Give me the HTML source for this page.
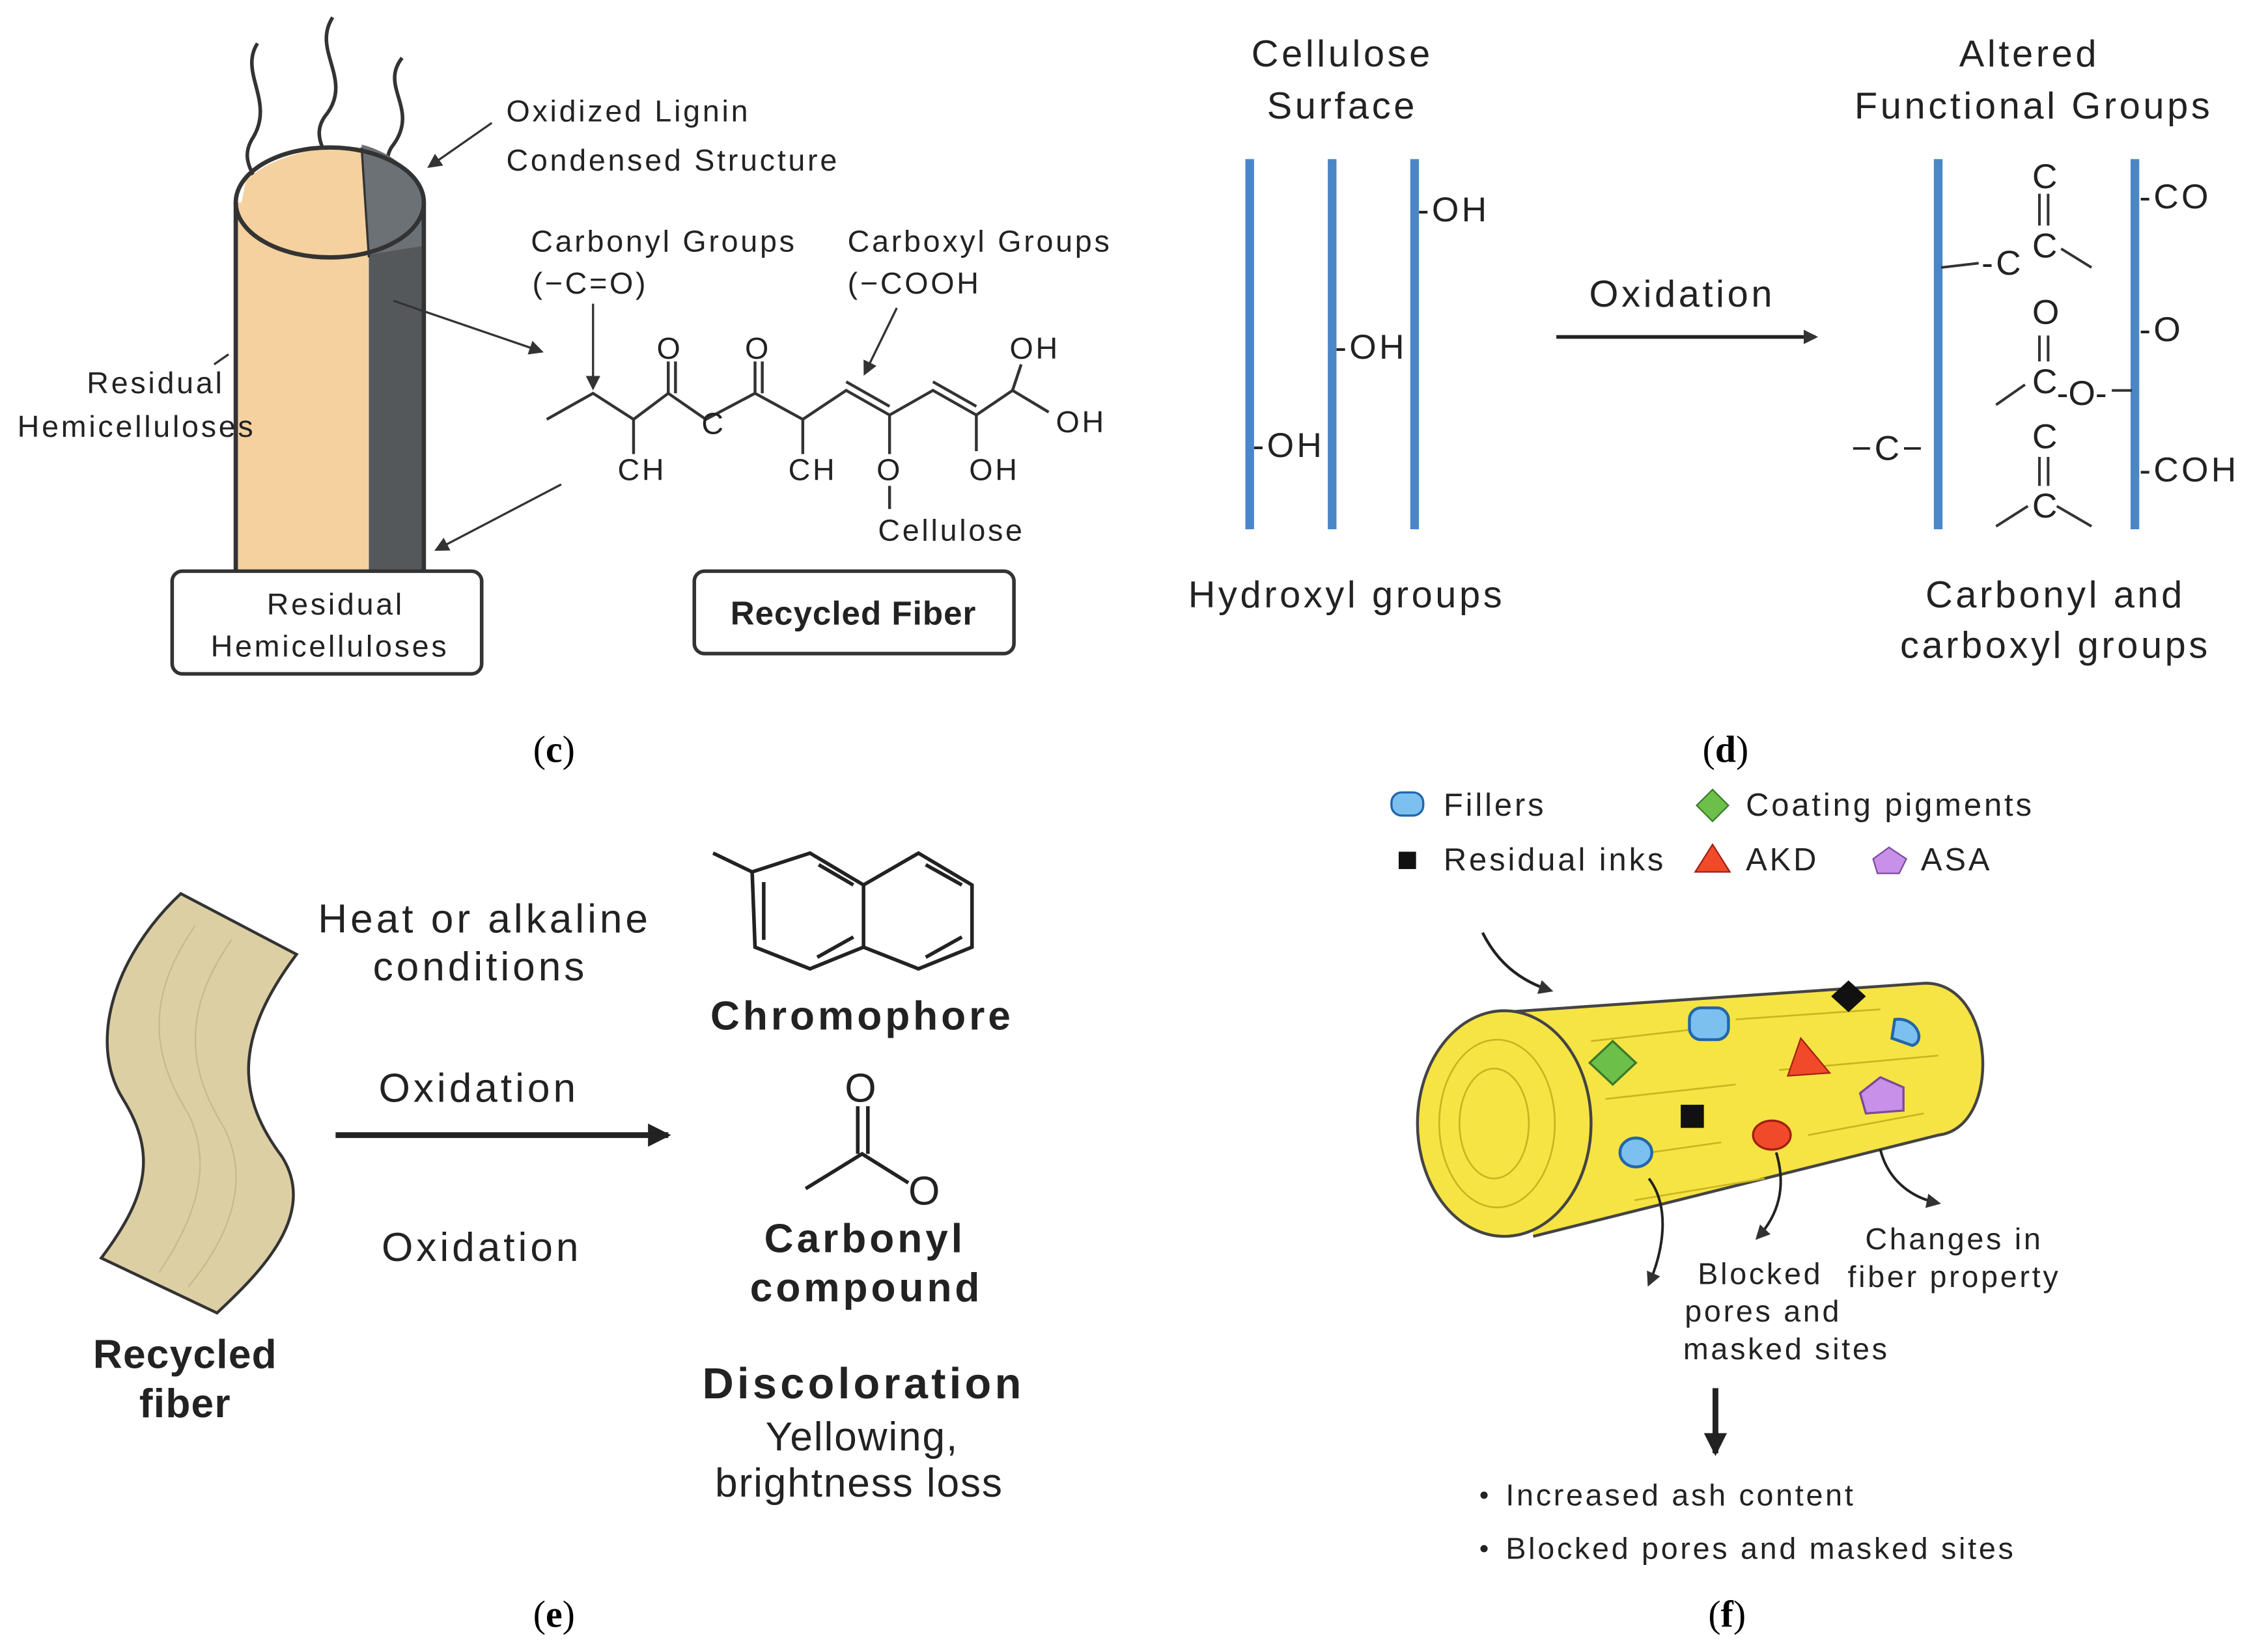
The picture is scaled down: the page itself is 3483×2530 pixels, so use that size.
<!DOCTYPE html>
<html><head><meta charset="utf-8"><style>
html,body{margin:0;padding:0;background:#fff}
svg{display:block}
text{font-family:"Liberation Sans",sans-serif;fill:#222;letter-spacing:0.08em}
text.s{font-family:"Liberation Serif",serif;fill:#000;letter-spacing:0}
</style></head><body>
<svg width="3483" height="2530" viewBox="0 0 1568 1139" xmlns="http://www.w3.org/2000/svg">
<defs>
<marker id="ah" markerWidth="10" markerHeight="10" refX="8" refY="5" orient="auto" markerUnits="userSpaceOnUse"><path d="M0,0 L10,5 L0,10 z" fill="#333"/></marker>
<marker id="ahb" markerWidth="16" markerHeight="16" refX="14" refY="8" orient="auto" markerUnits="userSpaceOnUse"><path d="M0,0 L16,8 L0,16 z" fill="#222"/></marker>
</defs>
<rect width="1568" height="1139" fill="#fff"/>

<!-- ===== Panel c ===== -->
<g fill="none" stroke="#333" stroke-width="2.5">
<path d="M178,30 C165,50 190,70 175,95 C162,115 185,125 178,140"/>
<path d="M230,12 C215,35 245,55 225,80 C210,100 240,115 228,135"/>
<path d="M278,40 C262,60 290,75 272,100 C260,115 280,125 275,135"/>
</g>
<rect x="163" y="140" width="92" height="255" fill="#f4d19f"/>
<path d="M170,125 C190,105 230,100 250,102 L255,178 C220,178 180,170 165,150 Z" fill="#f4d19f"/>
<rect x="255" y="140" width="38" height="255" fill="#55585b"/>
<path d="M250,100 C270,105 290,120 293,140 L293,170 L255,176 Z" fill="#6c7176"/>
<path d="M163,140 L163,395 M293,140 L293,395" stroke="#333" stroke-width="3"/>
<ellipse cx="228" cy="140" rx="65" ry="38" fill="none" stroke="#333" stroke-width="3"/>
<path d="M250,102 L255,178" stroke="#333" stroke-width="1.5"/>
<text x="350" y="84" font-size="21">Oxidized Lignin</text>
<text x="350" y="118" font-size="21">Condensed Structure</text>
<line x1="340" y1="85" x2="297" y2="115" stroke="#333" stroke-width="1.5" marker-end="url(#ah)"/>
<text x="60" y="272" font-size="21">Residual</text>
<text x="12" y="302" font-size="21">Hemicelluloses</text>
<line x1="148" y1="252" x2="158" y2="245" stroke="#333" stroke-width="1.5"/>
<line x1="272" y1="208" x2="374" y2="243" stroke="#333" stroke-width="1.5" marker-end="url(#ah)"/>
<line x1="388" y1="335" x2="302" y2="380" stroke="#333" stroke-width="1.5" marker-end="url(#ah)"/>
<rect x="119" y="395" width="214" height="71" rx="7" fill="#fff" stroke="#333" stroke-width="2.5"/>
<text x="232" y="425" font-size="21" text-anchor="middle">Residual</text>
<text x="228" y="454" font-size="21" text-anchor="middle">Hemicelluloses</text>
<rect x="480" y="395" width="221" height="57" rx="7" fill="#fff" stroke="#333" stroke-width="2.5"/>
<text x="590" y="432" font-size="23" font-weight="bold" text-anchor="middle" style="letter-spacing:0.02em">Recycled Fiber</text>
<text x="367" y="174" font-size="21">Carbonyl Groups</text>
<text x="368" y="203" font-size="21">(−C=O)</text>
<text x="586" y="174" font-size="21">Carboxyl Groups</text>
<text x="586" y="203" font-size="21">(−COOH</text>
<line x1="410" y1="210" x2="410" y2="268" stroke="#333" stroke-width="1.5" marker-end="url(#ah)"/>
<line x1="620" y1="213" x2="598" y2="258" stroke="#333" stroke-width="1.5" marker-end="url(#ah)"/>
<g fill="none" stroke="#333" stroke-width="2">
<path d="M378,290 L410,272 L438,290 L462,272 L488,290 L522,272 L555,290 L585,270 L615,287 L645,270 L675,287 L700,270 L725,285"/>
<path d="M438,290 L438,314 M555,290 L555,314 M615,287 L615,314 M615,336 L615,352 M675,287 L675,312 M700,270 L706,252"/>
<path d="M462,272 L462,250 M467,272 L467,250 M522,272 L522,250 M527,272 L527,250"/>
<path d="M585,264 L615,281 M645,264 L675,281"/>
</g>
<g font-size="21">
<text x="454" y="248">O</text><text x="515" y="248">O</text>
<text x="485" y="300">C</text>
<text x="427" y="332">CH</text><text x="545" y="332">CH</text>
<text x="606" y="332">O</text><text x="670" y="332">OH</text>
<text x="698" y="248">OH</text><text x="730" y="299">OH</text>
<text x="607" y="374">Cellulose</text>
</g>
<text x="383" y="527" font-size="26" class="s" text-anchor="middle">(<tspan font-weight="bold">c</tspan>)</text>

<!-- ===== Panel d ===== -->
<g font-size="26">
<text x="928" y="46" text-anchor="middle">Cellulose</text>
<text x="928" y="82" text-anchor="middle">Surface</text>
<text x="1403" y="46" text-anchor="middle">Altered</text>
<text x="1406" y="82" text-anchor="middle">Functional Groups</text>
<text x="931" y="420" text-anchor="middle">Hydroxyl groups</text>
<text x="1421" y="420" text-anchor="middle">Carbonyl and</text>
<text x="1421" y="455" text-anchor="middle">carboxyl groups</text>
<text x="1163" y="212" text-anchor="middle">Oxidation</text>
</g>
<g stroke="#4a86c8" stroke-width="6">
<line x1="864" y1="110" x2="864" y2="366"/><line x1="921" y1="110" x2="921" y2="366"/><line x1="978" y1="110" x2="978" y2="366"/>
<line x1="1340" y1="110" x2="1340" y2="366"/><line x1="1476" y1="110" x2="1476" y2="366"/>
</g>
<line x1="1076" y1="233" x2="1255" y2="233" stroke="#222" stroke-width="2.5" marker-end="url(#ah)"/>
<g font-size="24">
<text x="980" y="153">-OH</text><text x="923" y="248">-OH</text><text x="866" y="316">-OH</text>
<text x="1479" y="144">-CO</text><text x="1479" y="236">-O</text><text x="1479" y="333">-COH</text>
<text x="1280" y="318">−C−</text>
<text x="1405" y="130">C</text><text x="1370" y="190">-C</text><text x="1405" y="178">C</text>
<text x="1405" y="224">O</text><text x="1405" y="272">C</text><text x="1422" y="280" style="letter-spacing:0">-O-</text>
<text x="1405" y="310">C</text><text x="1405" y="358">C</text>
</g>
<g stroke="#333" stroke-width="1.8" fill="none">
<path d="M1410,134 L1410,156 M1416,134 L1416,156 M1410,232 L1410,250 M1416,232 L1416,250 M1410,316 L1410,336 M1416,316 L1416,336"/>
<path d="M1342,185 L1368,182 M1425,172 L1446,185 M1380,280 L1400,266 M1380,364 L1402,350 M1422,350 L1446,364 M1460,270 L1474,270"/>
</g>
<text x="1193" y="527" font-size="26" class="s" text-anchor="middle">(<tspan font-weight="bold">d</tspan>)</text>

<!-- ===== Panel e ===== -->
<path d="M125,618 L205,660 C160,720 165,760 195,800 C220,840 180,880 150,908 L70,870 C100,830 110,800 85,760 C60,720 80,660 125,618 Z" fill="#dccfa3" stroke="#333" stroke-width="2"/>
<g stroke="#c9b98a" stroke-width="1" fill="none">
<path d="M135,640 C100,690 105,730 130,770 C150,810 130,850 110,880"/>
<path d="M160,650 C125,700 130,740 155,780 C175,820 155,860 130,890"/>
</g>
<text x="128" y="946" font-size="28" font-weight="bold" text-anchor="middle" style="letter-spacing:0.02em">Recycled</text>
<text x="128" y="980" font-size="28" font-weight="bold" text-anchor="middle" style="letter-spacing:0.02em">fiber</text>
<g font-size="28" style="letter-spacing:0.03em">
<text x="335" y="645" text-anchor="middle">Heat or alkaline</text>
<text x="332" y="678" text-anchor="middle">conditions</text>
<text x="331" y="762" text-anchor="middle">Oxidation</text>
<text x="333" y="872" text-anchor="middle">Oxidation</text>
</g>
<line x1="232" y1="785" x2="462" y2="785" stroke="#222" stroke-width="4" marker-end="url(#ahb)"/>
<g stroke="#222" stroke-width="2.5" fill="none">
<path d="M520,603 L560,590 L597,612 L597,655 L560,670 L522,655 Z"/>
<path d="M597,612 L635,590 L672,612 L672,655 L635,670 L597,655"/>
<path d="M520,603 L493,590"/>
<path d="M528,610 L528,650 M566,598 L590,612 M565,662 L590,648 M640,598 L665,612 M640,662 L665,648"/>
<path d="M557,822 L596,798 L628,818 M593,765 L593,798 M600,765 L600,798"/>
</g>
<g style="letter-spacing:0.02em">
<text x="596" y="712" font-size="28" font-weight="bold" text-anchor="middle">Chromophore</text>
<text x="596" y="762" font-size="28" text-anchor="middle">O</text>
<text x="640" y="833" font-size="28" text-anchor="middle">O</text>
<text x="598" y="866" font-size="28" font-weight="bold" text-anchor="middle">Carbonyl</text>
<text x="599" y="900" font-size="28" font-weight="bold" text-anchor="middle">compound</text>
<text x="597" y="967" font-size="30" font-weight="bold" text-anchor="middle">Discoloration</text>
<text x="596" y="1003" font-size="28" text-anchor="middle" style="letter-spacing:0.03em">Yellowing,</text>
<text x="594" y="1035" font-size="28" text-anchor="middle" style="letter-spacing:0.03em">brightness loss</text>
</g>
<text x="383" y="1125" font-size="26" class="s" text-anchor="middle">(<tspan font-weight="bold">e</tspan>)</text>

<!-- ===== Panel f ===== -->
<g font-size="22">
<rect x="962" y="548" width="22" height="16" rx="7" fill="#7cc0ef" stroke="#2266aa" stroke-width="1.5"/>
<text x="998" y="564">Fillers</text>
<path d="M1184,546 L1195,557 L1184,568 L1173,557 Z" fill="#6cc04a" stroke="#3a7a2a"/>
<text x="1207" y="564">Coating pigments</text>
<rect x="967" y="589" width="12" height="12" fill="#111"/>
<text x="998" y="602">Residual inks</text>
<path d="M1184,584 L1196,603 L1172,603 Z" fill="#f04a2a" stroke="#a02010"/>
<text x="1207" y="602">AKD</text>
<path d="M1306,586 L1318,594 L1313,604 L1298,604 L1295,594 Z" fill="#c890e8" stroke="#7a4a9a"/>
<text x="1328" y="602">ASA</text>
</g>
<path d="M1025,645 C1035,665 1050,678 1072,685" fill="none" stroke="#222" stroke-width="2" marker-end="url(#ah)"/>
<path d="M1040,700 L1330,680 C1380,678 1385,780 1340,785 L1060,855 Z" fill="#f6e444"/>
<path d="M1040,700 L1330,680 C1380,678 1385,780 1340,785 L1060,855" fill="none" stroke="#444" stroke-width="2"/>
<ellipse cx="1040" cy="777" rx="60" ry="78" fill="#f6e444" stroke="#444" stroke-width="2"/>
<g fill="none" stroke="#c9b520" stroke-width="1.2">
<ellipse cx="1035" cy="777" rx="40" ry="58"/><ellipse cx="1033" cy="777" rx="24" ry="38"/>
<path d="M1100,720 L1170,712 M1200,705 L1300,698 M1110,760 L1200,750 M1230,740 L1340,730 M1120,800 L1190,790 M1250,785 L1330,770 M1130,830 L1220,815"/>
</g>
<rect x="1168" y="697" width="27" height="22" rx="8" fill="#7cc0ef" stroke="#2266aa" stroke-width="2"/>
<path d="M1115,720 L1131,735 L1115,750 L1099,735 Z" fill="#6cc04a" stroke="#3a7a2a" stroke-width="1.5"/>
<path d="M1278,678 L1290,689 L1278,700 L1266,689 Z" fill="#111"/>
<path d="M1245,718 L1265,742 L1236,744 Z" fill="#f04a2a" stroke="#a02010"/>
<path d="M1310,705 C1325,703 1332,720 1322,723 L1308,718 Z" fill="#7cc0ef" stroke="#2266aa" stroke-width="2"/>
<path d="M1300,745 L1316,752 L1316,768 L1290,770 L1286,756 Z" fill="#c890e8" stroke="#7a4a9a" stroke-width="1.5"/>
<rect x="1162" y="764" width="16" height="16" fill="#111"/>
<ellipse cx="1131" cy="797" rx="11" ry="10" fill="#7cc0ef" stroke="#2266aa" stroke-width="2"/>
<ellipse cx="1225" cy="785" rx="13" ry="10" fill="#f04a2a" stroke="#a02010" stroke-width="1.5"/>
<g fill="none" stroke="#222" stroke-width="1.8">
<path d="M1140,815 C1155,835 1150,865 1140,888" marker-end="url(#ah)"/>
<path d="M1228,797 C1235,820 1230,840 1215,856" marker-end="url(#ah)"/>
<path d="M1300,795 C1305,815 1320,828 1340,832" marker-end="url(#ah)"/>
</g>
<g font-size="21">
<text x="1351" y="864" text-anchor="middle">Changes in</text>
<text x="1351" y="890" text-anchor="middle">fiber property</text>
<text x="1217" y="888" text-anchor="middle">Blocked</text>
<text x="1219" y="914" text-anchor="middle">pores and</text>
<text x="1235" y="940" text-anchor="middle">masked sites</text>
</g>
<line x1="1186" y1="960" x2="1186" y2="1005" stroke="#222" stroke-width="4" marker-end="url(#ahb)"/>
<g font-size="21">
<circle cx="1026" cy="1034" r="2.5" fill="#222"/><text x="1041" y="1041">Increased ash content</text>
<circle cx="1026" cy="1071" r="2.5" fill="#222"/><text x="1041" y="1078">Blocked pores and masked sites</text>
</g>
<text x="1194" y="1125" font-size="26" class="s" text-anchor="middle">(<tspan font-weight="bold">f</tspan>)</text>
</svg>
</body></html>
